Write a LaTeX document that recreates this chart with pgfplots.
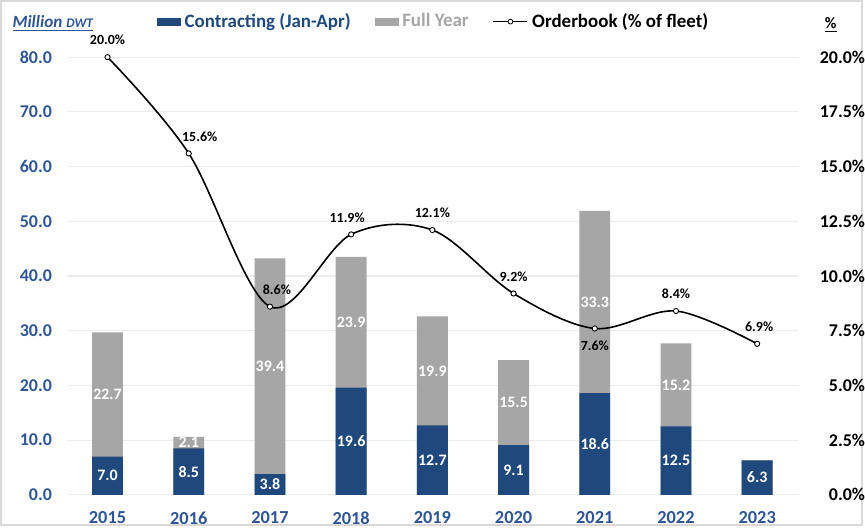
\documentclass[border=0pt]{standalone}
\usepackage{pgfplots}
\usepackage{pgfplotstable}
\pgfplotsset{compat=1.18}
\usepackage{fontspec}
\setmainfont{Carlito}

\definecolor{barblue}{HTML}{1F497D}
\definecolor{bargrey}{HTML}{A6A6A6}
\definecolor{tickblue}{HTML}{2F5597}
\definecolor{gridgrey}{HTML}{ECECEC}

% contracting Jan-Apr and the rest of the full year, million dwt
\pgfplotstableread{
x year jan full
0 2015 7.0 22.7
1 2016 8.5 2.1
2 2017 3.8 39.4
3 2018 19.6 23.9
4 2019 12.7 19.9
5 2020 9.1 15.5
6 2021 18.6 33.3
7 2022 12.5 15.2
8 2023 6.3 0.0
}\contracting

% orderbook as % of fleet, with label offsets (pt)
\pgfplotstableread{
x ob dx dy
0 20.0 0 8.5
1 15.6 5.5 8.5
2 8.6 3.5 8.5
3 11.9 -2 8.5
4 12.1 0 8.5
5 9.2 0 8.5
6 7.6 0 -8.5
7 8.4 0 8.5
8 6.9 1 8.5
}\orderbook

\begin{document}
\begin{tikzpicture}
\pgfplotsset{
  every axis/.append style={
    scale only axis,
    width=366.5pt, height=219.5pt,
    xmin=-0.5, xmax=8.5,
    axis line style={draw=none},
    major tick length=0pt,
    /pgf/number format/assume math mode=true,
  },
}
\begin{axis}[
  ymin=0, ymax=80,
  ytick={0,10,20,30,40,50,60,70,80},
  yticklabel={\pgfmathprintnumber[fixed,fixed zerofill,precision=1]{\tick}},
  yticklabel style={font=\fontsize{9}{10}\selectfont\bfseries, text=tickblue, xshift=-4pt},
  xtick={0,...,8},
  xticklabels={2015,2016,2017,2018,2019,2020,2021,2022,2023},
  xticklabel style={font=\fontsize{9.2}{10}\selectfont\bfseries, text=tickblue, yshift=-5pt},
  ymajorgrids=true,
  grid style={gridgrey, line width=0.6pt},
  clip=false,
  legend columns=3,
  legend style={at={(0.503,1.081)}, anchor=center, draw=none, fill=none,
    font=\fontsize{9.5}{10}\selectfont\bfseries,
    /tikz/every even column/.append style={column sep=10pt}},
  legend cell align=left,
]
% grey = full year total, blue drawn over it
\addplot[ybar, bar width=15.5pt, bar shift=0pt, fill=bargrey, draw=none,
  forget plot]
  table[x=x, y expr=\thisrow{jan}+\thisrow{full}] {\contracting};
\addplot[ybar, bar width=15.5pt, bar shift=0pt, fill=barblue, draw=none,
  forget plot]
  table[x=x, y=jan] {\contracting};

% segment labels
\addplot[draw=none, mark=none, forget plot,
  nodes near coords, point meta=explicit,
  nodes near coords={\pgfmathprintnumber[fixed,fixed zerofill,precision=1]{\pgfplotspointmeta}},
  every node near coord/.style={anchor=center, text=white,
    font=\fontsize{8}{9}\selectfont\bfseries}]
  table[x=x, y expr=\thisrow{jan}/2, meta=jan] {\contracting};
\addplot[draw=none, mark=none, forget plot, skip coords between index={8}{9},
  nodes near coords, point meta=explicit,
  nodes near coords={\pgfmathprintnumber[fixed,fixed zerofill,precision=1]{\pgfplotspointmeta}},
  every node near coord/.style={anchor=center, text=white,
    font=\fontsize{8}{9}\selectfont\bfseries}]
  table[x=x, y expr=\thisrow{jan}+\thisrow{full}/2, meta=full] {\contracting};

\addlegendimage{legend image code/.code={\fill[barblue] (0pt,-1.8pt) rectangle (11.5pt,1.8pt);}}
\addlegendentry{\textcolor{barblue}{Contracting (Jan-Apr)}}
\addlegendimage{legend image code/.code={\fill[bargrey] (0pt,-1.8pt) rectangle (11.5pt,1.8pt);}}
\addlegendentry{\textcolor{bargrey}{Full Year}}
\addlegendimage{black, line width=0.8pt, mark=*, mark size=1.2pt,
  mark options={fill=white, line width=0.4pt}}
\addlegendentry{Orderbook (\% of fleet)}

\node[anchor=west, inner sep=0pt, text=tickblue, font=\fontsize{8.6}{10}\selectfont\bfseries\itshape]
  at (rel axis cs:-0.075,1.077) {\underline{Million {\fontsize{6.6}{8}\selectfont DWT}}};
\node[font=\fontsize{8}{9}\selectfont\bfseries]
  at (rel axis cs:1.045,1.074) {\underline{\%}};
\draw[gray!30, line width=0.8pt]
  (rel axis cs:-0.0905,-0.0695) rectangle (rel axis cs:1.0878,1.1287);
\end{axis}

\begin{axis}[
  ymin=0, ymax=20,
  axis x line=none,
  axis y line*=right,
  ytick={0,2.5,5,7.5,10,12.5,15,17.5,20},
  yticklabel={\pgfmathprintnumber[fixed,fixed zerofill,precision=1]{\tick}\%},
  yticklabel style={font=\fontsize{9}{10}\selectfont\bfseries, text=black,
    text width=2.75em, align=right, inner xsep=0pt, xshift=6pt},
  clip=false,
]
\addplot[black, line width=0.8pt, smooth, tension=0.55,
  mark=*, mark size=1.3pt, mark options={fill=white, line width=0.45pt},
  nodes near coords, point meta=y,
  visualization depends on={\thisrow{dx}\as\dx},
  visualization depends on={\thisrow{dy}\as\dy},
  nodes near coords={\pgfmathprintnumber[fixed,fixed zerofill,precision=1]{\pgfplotspointmeta}\%},
  every node near coord/.style={anchor=center, xshift=\dx pt, yshift=\dy pt,
    text=black, font=\fontsize{7}{8}\selectfont\bfseries}]
  table[x=x, y=ob] {\orderbook};
\end{axis}
\end{tikzpicture}
\end{document}
